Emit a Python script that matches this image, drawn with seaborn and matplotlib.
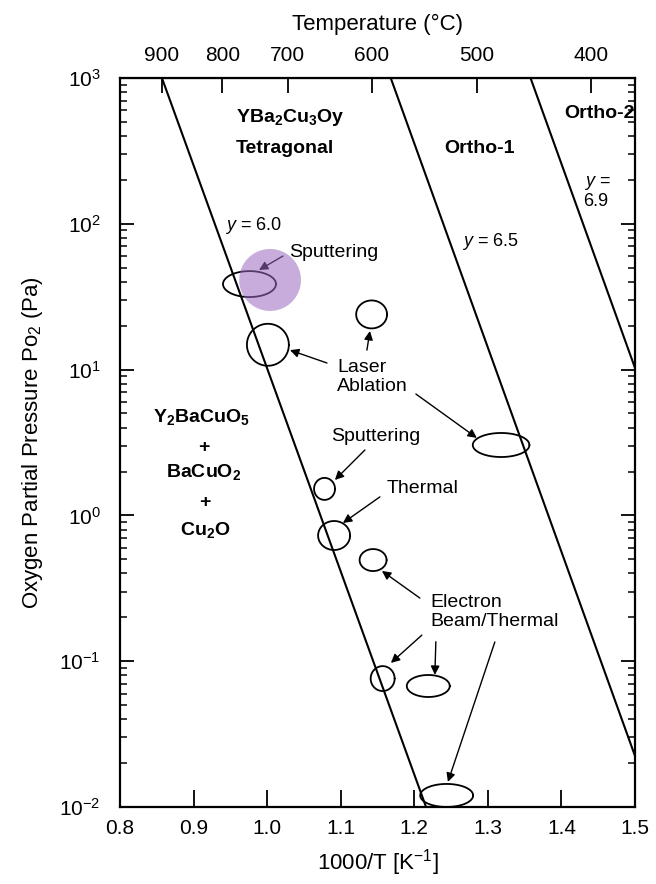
import numpy as np
import pandas as pd
import matplotlib
matplotlib.use('Agg')
import matplotlib.pyplot as plt
from matplotlib.ticker import FuncFormatter, NullFormatter
import seaborn as sns

# phase boundaries: 1000/T where the line meets Po2 = 1e3 Pa and Po2 = 1e-2 Pa
line_labels = ['y = 6.0', 'y = 6.5', 'y = 6.9']
line_x_top = [0.857, 1.168, 1.358]
line_x_bottom = [1.216, 1.525, 1.715]

# film growth conditions: centre (1000/T, Po2), spread in 1000/T and in decades of Po2
ell_x = [0.976, 1.001, 1.142, 1.318, 1.078, 1.091, 1.144, 1.157, 1.219, 1.244]
ell_p = [38.6, 14.8, 23.9, 3.04, 1.52, 0.728, 0.494, 0.076, 0.0676, 0.0120]
ell_w = [0.072, 0.057, 0.042, 0.077, 0.0285, 0.0435, 0.0367, 0.0326, 0.0584, 0.072]
ell_h = [0.178, 0.288, 0.192, 0.165, 0.151, 0.199, 0.151, 0.171, 0.151, 0.158]

# highlighted condition
hl_x, hl_p, hl_w, hl_h = 1.004, 41.2, 0.084, 0.425

# top axis (temperature) ticks as printed
top_tick_pos = [0.857, 0.939, 1.028, 1.142, 1.285, 1.440]
top_tick_labels = ['900', '800', '700', '600', '500', '400']

sns.set_style('ticks')
plt.rcParams['font.family'] = ['Liberation Sans', 'DejaVu Sans']
plt.rcParams['mathtext.fontset'] = 'custom'
plt.rcParams['mathtext.rm'] = 'Liberation Sans'
plt.rcParams['mathtext.it'] = 'Liberation Sans:italic'
plt.rcParams['mathtext.bf'] = 'Liberation Sans:bold'
for k in ['text.color', 'axes.labelcolor', 'xtick.color', 'ytick.color', 'axes.edgecolor']:
    plt.rcParams[k] = 'black'

fig = plt.figure(figsize=(6.56, 8.84), dpi=100)
ax = fig.add_axes([120 / 656, 1 - 807 / 884, 515 / 656, 729 / 884])
ax.set_yscale('log')

lines = pd.DataFrame({'x': line_x_top + line_x_bottom,
                      'p': [1e3] * 3 + [1e-2] * 3,
                      'line': line_labels * 2})
sns.lineplot(data=lines, x='x', y='p', units='line', estimator=None,
             color='black', lw=1.5, ax=ax, legend=False)

t = np.linspace(0, 2 * np.pi, 150)
parts = []
for i in range(len(ell_x)):
    parts.append(pd.DataFrame({'x': ell_x[i] + ell_w[i] / 2 * np.cos(t),
                               'p': ell_p[i] * 10 ** (ell_h[i] / 2 * np.sin(t)),
                               'id': i}))
ells = pd.concat(parts, ignore_index=True)
sns.lineplot(data=ells, x='x', y='p', units='id', estimator=None, sort=False,
             color='black', lw=1.3, ax=ax, legend=False)

ax.fill(hl_x + hl_w / 2 * np.cos(t), hl_p * 10 ** (hl_h / 2 * np.sin(t)),
        color='#9b6bc0', alpha=0.55, lw=0, zorder=5)

ax.set_xlim(0.8, 1.5)
ax.set_ylim(1e-2, 1e3)

# region / line labels
fs = 14
bold = dict(fontsize=fs, fontweight='bold', ha='center', va='center')
ax.text(1.031, 532, r'YBa$_\mathbf{2}$Cu$_\mathbf{3}$Oy', **bold)
ax.text(1.024, 331, 'Tetragonal', **bold)
ax.text(1.289, 331, 'Ortho-1', **bold)
ax.text(1.451, 575, 'Ortho-2', **bold)
ax.text(0.910, 4.73, r'Y$_\mathbf{2}$BaCuO$_\mathbf{5}$', **bold)
ax.text(0.914, 2.90, '+', **bold)
ax.text(0.914, 1.99, r'BaCuO$_\mathbf{2}$', **bold)
ax.text(0.9155, 1.22, '+', **bold)
ax.text(0.9155, 0.794, r'Cu$_\mathbf{2}$O', **bold)

ax.text(0.981, 97.8, '$y$ = 6.0', fontsize=fs - 1, ha='center', va='center')
ax.text(1.303, 76, '$y$ = 6.5', fontsize=fs - 1, ha='center', va='center')
ax.text(1.430, 165, '$y$ =\n6.9', fontsize=fs - 1, ha='left', va='center', linespacing=1.1)

ax.text(1.0296, 64, 'Sputtering', fontsize=fs, ha='left', va='center')
ax.text(1.0948, 8.89, 'Laser\nAblation', fontsize=fs, ha='left', va='center', linespacing=1.15)
ax.text(1.0867, 3.45, 'Sputtering', fontsize=fs, ha='left', va='center')
ax.text(1.1628, 1.52, 'Thermal', fontsize=fs, ha='left', va='center')
ax.text(1.2212, 0.217, 'Electron\nBeam/Thermal', fontsize=fs, ha='left', va='center', linespacing=1.15)

arrow = dict(arrowstyle='-|>', color='black', lw=1.0, mutation_scale=13, shrinkA=0, shrinkB=0)
arrows = [((1.0215, 60.1), (0.9889, 48.2)),
          ((1.0813, 11.1), (1.031, 13.6)),
          ((1.1356, 13.6), (1.1397, 18.4)),
          ((1.2022, 6.8), (1.285, 3.40)),
          ((1.1329, 2.81), (1.0921, 1.75)),
          ((1.1533, 1.34), (1.103, 0.887)),
          ((1.2076, 0.271), (1.156, 0.416)),
          ((1.2103, 0.151), (1.1682, 0.0973)),
          ((1.2293, 0.136), (1.228, 0.0806)),
          ((1.3095, 0.1355), (1.2457, 0.01486))]
for tail, head in arrows:
    ax.annotate('', xy=head, xytext=tail, arrowprops=arrow)

# axes, ticks
ax.set_xticks(np.round(np.arange(0.8, 1.51, 0.1), 1))
ax.xaxis.set_major_formatter(FuncFormatter(lambda v, pos: f'{v:.1f}'))
ax.yaxis.set_major_formatter(FuncFormatter(lambda v, pos: f'10$^{{{int(round(np.log10(v)))}}}$'))
ax.yaxis.set_minor_formatter(NullFormatter())
ax.tick_params(axis='x', which='both', direction='in', top=False, bottom=True,
               length=12, width=1.3, labelsize=15, pad=9)
ax.tick_params(axis='y', which='major', direction='in', left=True, right=True,
               length=10, width=1.3, labelsize=15, pad=14)
ax.tick_params(axis='y', which='minor', direction='in', left=True, right=True,
               length=5, width=1.1)
for s in ax.spines.values():
    s.set_linewidth(1.6)
    s.set_visible(True)

ax.set_xlabel('1000/T [K$^{-1}$]', fontsize=16, labelpad=6)
ax.set_ylabel('Oxygen Partial Pressure Po$_2$ (Pa)', fontsize=16, labelpad=10)

sec = ax.secondary_xaxis('top')
sec.set_xticks(top_tick_pos)
sec.set_xticklabels(top_tick_labels)
sec.tick_params(direction='in', length=11, width=1.3, labelsize=15, pad=9)
sec.set_xlabel('Temperature (°C)', fontsize=16, labelpad=12)

fig.savefig('out.png', dpi=100)
